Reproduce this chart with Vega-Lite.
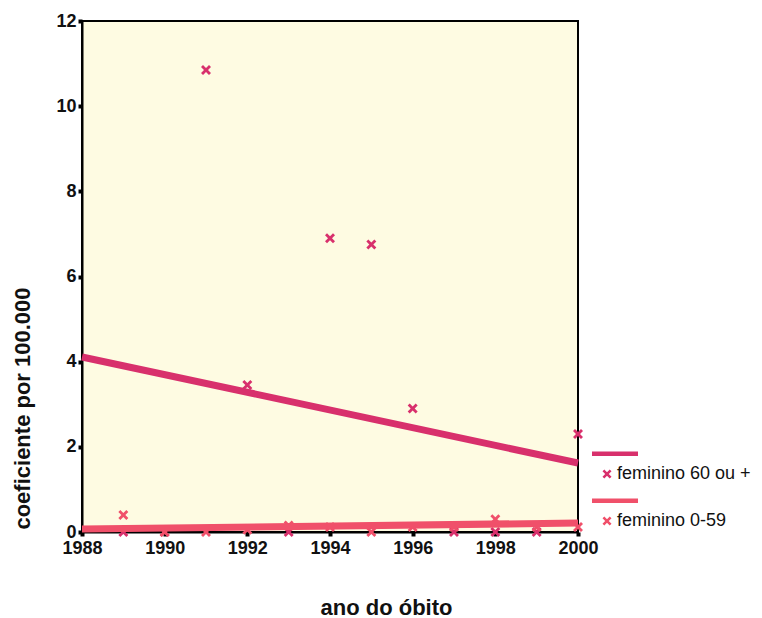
{
  "$schema": "https://vega.github.io/schema/vega-lite/v6.json",
  "width": 496,
  "height": 511,
  "autosize": "none",
  "padding": {"left": 82, "top": 21, "right": 184, "bottom": 86},
  "background": "white",
  "config": {
    "font": "Liberation Sans",
    "view": {"fill": "#fefbe2", "stroke": "#000000", "strokeWidth": 2}
  },
  "datasets": {
    "pts": [
      {"ano": 1989, "coef": 0, "grupo": "feminino 60 ou +"},
      {"ano": 1990, "coef": 0, "grupo": "feminino 60 ou +"},
      {"ano": 1991, "coef": 10.85, "grupo": "feminino 60 ou +"},
      {"ano": 1992, "coef": 3.45, "grupo": "feminino 60 ou +"},
      {"ano": 1993, "coef": 0, "grupo": "feminino 60 ou +"},
      {"ano": 1994, "coef": 6.9, "grupo": "feminino 60 ou +"},
      {"ano": 1995, "coef": 6.75, "grupo": "feminino 60 ou +"},
      {"ano": 1996, "coef": 2.9, "grupo": "feminino 60 ou +"},
      {"ano": 1997, "coef": 0, "grupo": "feminino 60 ou +"},
      {"ano": 1998, "coef": 0, "grupo": "feminino 60 ou +"},
      {"ano": 1999, "coef": 0, "grupo": "feminino 60 ou +"},
      {"ano": 2000, "coef": 2.3, "grupo": "feminino 60 ou +"},
      {"ano": 1989, "coef": 0.4, "grupo": "feminino 0-59"},
      {"ano": 1990, "coef": 0, "grupo": "feminino 0-59"},
      {"ano": 1991, "coef": 0, "grupo": "feminino 0-59"},
      {"ano": 1992, "coef": 0.05, "grupo": "feminino 0-59"},
      {"ano": 1993, "coef": 0.15, "grupo": "feminino 0-59"},
      {"ano": 1994, "coef": 0.12, "grupo": "feminino 0-59"},
      {"ano": 1995, "coef": 0, "grupo": "feminino 0-59"},
      {"ano": 1996, "coef": 0.12, "grupo": "feminino 0-59"},
      {"ano": 1997, "coef": 0.12, "grupo": "feminino 0-59"},
      {"ano": 1998, "coef": 0.3, "grupo": "feminino 0-59"},
      {"ano": 1999, "coef": 0.12, "grupo": "feminino 0-59"},
      {"ano": 2000, "coef": 0.12, "grupo": "feminino 0-59"}
    ],
    "fit": [
      {"ano": 1988, "coef": 4.11, "grupo": "feminino 60 ou +"},
      {"ano": 2000, "coef": 1.62, "grupo": "feminino 60 ou +"},
      {"ano": 1988, "coef": 0.07, "grupo": "feminino 0-59"},
      {"ano": 2000, "coef": 0.21, "grupo": "feminino 0-59"}
    ]
  },
  "encoding": {
    "x": {
      "field": "ano",
      "type": "quantitative",
      "scale": {"domain": [1988, 2000], "nice": false, "zero": false},
      "axis": {
        "values": [1988, 1990, 1992, 1994, 1996, 1998, 2000],
        "format": "d",
        "grid": false,
        "domainColor": "#000000",
        "domainWidth": 2,
        "tickColor": "#000000",
        "tickSize": 4,
        "tickWidth": 4,
        "labelFont": "Liberation Sans",
        "labelFontWeight": "bold",
        "labelFontSize": 18,
        "labelColor": "#111111",
        "labelPadding": 3,
        "labelFlush": false,
        "title": "ano do óbito",
        "titleFont": "Liberation Sans",
        "titleFontWeight": "bold",
        "titleFontSize": 22,
        "titleColor": "#111111",
        "titleX": 304,
        "titleY": 75,
        "titleBaseline": "middle"
      }
    },
    "y": {
      "field": "coef",
      "type": "quantitative",
      "scale": {"domain": [0, 12], "nice": false},
      "axis": {
        "values": [0, 2, 4, 6, 8, 10, 12],
        "grid": false,
        "domainColor": "#000000",
        "domainWidth": 2,
        "tickColor": "#000000",
        "tickSize": 4,
        "tickWidth": 4,
        "labelFont": "Liberation Sans",
        "labelFontWeight": "bold",
        "labelFontSize": 18,
        "labelColor": "#111111",
        "labelPadding": 2,
        "labelFlush": false,
        "title": "coeficiente por 100.000",
        "titleFont": "Liberation Sans",
        "titleFontWeight": "bold",
        "titleFontSize": 22,
        "titleColor": "#111111",
        "titleAngle": -90,
        "titleX": -60,
        "titleY": 387,
        "titleBaseline": "middle",
        "titleAlign": "center"
      }
    }
  },
  "layer": [
    {
      "data": {"name": "pts"},
      "mark": {
        "type": "point",
        "shape": "M0,-0.4L0.6,-1L1,-0.6L0.4,0L1,0.6L0.6,1L0,0.4L-0.6,1L-1,0.6L-0.4,0L-1,-0.6L-0.6,-1Z",
        "filled": true,
        "size": 100,
        "opacity": 1
      },
      "encoding": {
        "color": {
          "field": "grupo",
          "type": "nominal",
          "scale": {
            "domain": ["feminino 60 ou +", "feminino 0-59"],
            "range": ["#d8306c", "#f0506a"]
          },
          "legend": {
            "orient": "none",
            "legendX": 500,
            "legendY": 428,
            "title": null,
            "symbolType": "M0,-0.072L0.108,-0.18L0.18,-0.108L0.072,0L0.18,0.108L0.108,0.18L0,0.072L-0.108,0.18L-0.18,0.108L-0.072,0L-0.18,-0.108L-0.108,-0.18Z M-0.6,-0.9L1.24,-0.9L1.24,-0.72L-0.6,-0.72Z",
            "symbolSize": 2500,
            "symbolStrokeWidth": 0,
            "labelFont": "Liberation Sans",
            "labelFontSize": 18,
            "labelColor": "#111111",
            "labelOffset": -15,
            "rowPadding": 13,
            "padding": 0
          }
        }
      }
    },
    {
      "data": {"name": "fit"},
      "mark": {"type": "line", "strokeWidth": 7, "strokeCap": "butt"},
      "encoding": {
        "color": {"field": "grupo", "type": "nominal", "legend": null},
        "detail": {"field": "grupo"}
      }
    }
  ]
}
